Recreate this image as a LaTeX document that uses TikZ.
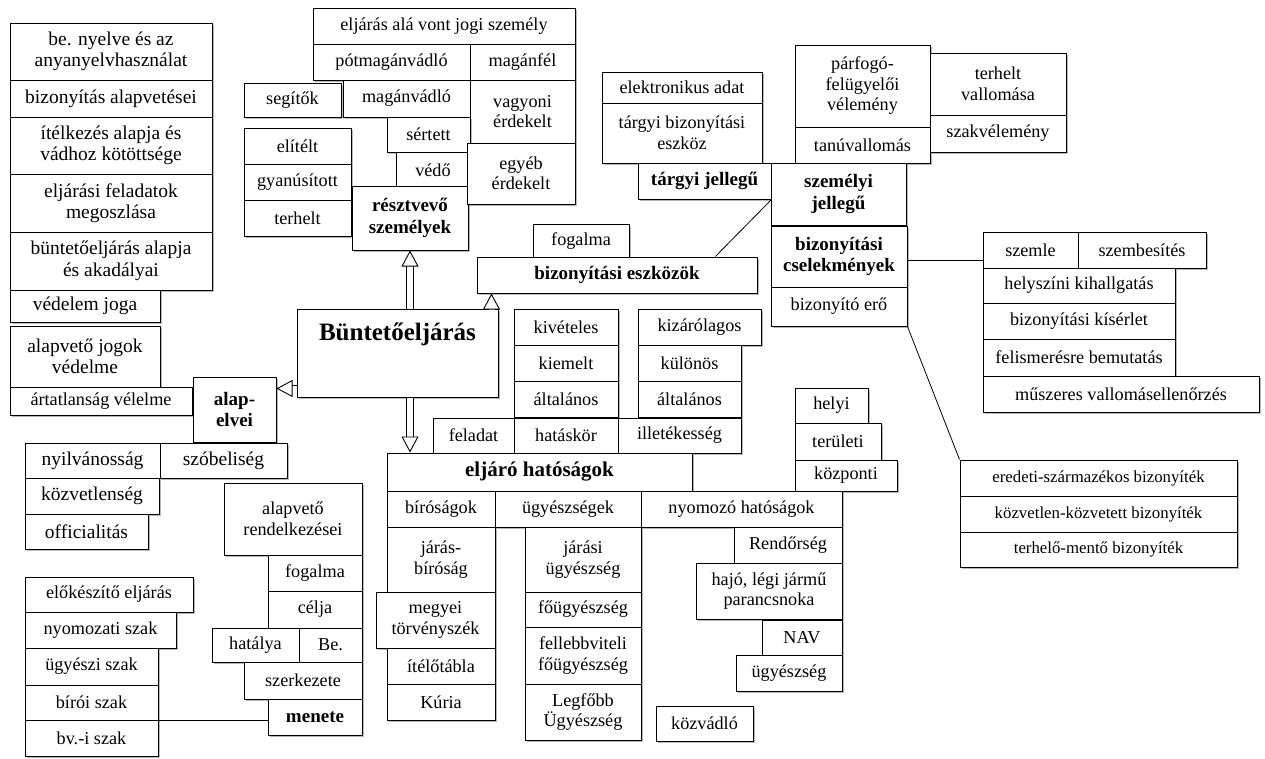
\documentclass[tikz,border=0pt]{standalone}
\usepackage{fontspec}
\setmainfont{Liberation Serif}
\usetikzlibrary{arrows.meta,shadows,calc}

\begin{document}
\begin{tikzpicture}[x=1pt,y=-1pt,
  box/.style={draw,fill=white,line width=1pt,align=center,inner sep=1pt,
    font=\fontsize{18.2}{20.5}\selectfont,
    drop shadow={shadow xshift=2pt,shadow yshift=-2pt,fill=black!55,opacity=.5}},
  wide/.style={box,font=\fontsize{19.5}{21.5}\selectfont},
  slim/.style={box,font=\fontsize{16.8}{20}\selectfont},
  head/.style={box,font=\fontsize{19}{21.5}\selectfont\bfseries},
  sz/.style 2 args={minimum width=#1,minimum height=#2},
  fat/.style={double,double distance=6pt,line width=0.9pt,
    -{Triangle[open,length=16pt,width=17pt]}},
  link/.style={line width=0.8pt}]
\useasboundingbox (0,0) rectangle (1265,758);

% bal oszlop
\node[wide,sz={202}{57}] (nyelv) at (111,51.5) {be. nyelve és az\\anyanyelvhasználat};
\node[wide,sz={202}{37}] (alapvet) at (111,98.5) {bizonyítás alapvetései};
\node[wide,sz={202}{57}] (itelk) at (111,145.5) {ítélkezés alapja és\\vádhoz kötöttsége};
\node[wide,sz={202}{58}] (megoszl) at (111,203) {eljárási feladatok\\megoszlása};
\node[wide,sz={202}{58}] (akadaly) at (111,261) {büntetőeljárás alapja\\és akadályai};
\node[wide,sz={150}{32}] (vedelem) at (85,306) {védelem joga};
\node[wide,sz={150}{61}] (jogok) at (85,356.5) {alapvető jogok\\védelme};
\node[box,sz={182}{28}] (artatl) at (101,401) {ártatlanság vélelme};
\node[head,sz={83}{65}] (alapelv) at (234.5,409.5) {alap-\\elvei};
\node[wide,sz={135}{35}] (nyilv) at (92.5,460.5) {nyilvánosság};
\node[wide,sz={127}{35}] (szobel) at (223.5,460.5) {szóbeliség};
\node[wide,sz={134}{36}] (kozvetl) at (92,496) {közvetlenség};
\node[wide,sz={123}{35}] (offic) at (86.5,531.5) {officialitás};

% Be. alapveto rendelkezesei
\node[box,sz={138}{72}] (rendelk) at (293,519) {alapvető\\rendelkezései};
\node[box,sz={94}{36}] (fogalmaB) at (315,573) {fogalma};
\node[box,sz={94}{37}] (celja) at (315,609.5) {célja};
\node[box,sz={87}{34}] (hatalya) at (255.5,645) {hatálya};
\node[box,sz={63}{34}] (bepont) at (330.5,645) {Be.};
\node[box,sz={118}{37}] (szerk) at (303,680.5) {szerkezete};
\node[head,sz={94}{36}] (menete) at (315,717) {menete};
\node[box,sz={168}{35}] (elokesz) at (109,594.5) {előkészítő eljárás};
\node[box,sz={151}{36}] (nyomszak) at (100.5,630) {nyomozati szak};
\node[box,sz={133}{37}] (ugyszak) at (91.5,666.5) {ügyészi szak};
\node[box,sz={133}{35}] (biroszak) at (91.5,702.5) {bírói szak};
\node[box,sz={133}{36}] (bvszak) at (91.5,738) {bv.-i szak};

% resztvevo szemelyek
\node[box,sz={262}{36}] (jogisz) at (444,26) {eljárás alá vont jogi személy};
\node[box,sz={157}{36}] (potmag) at (391.5,62) {pótmagánvádló};
\node[box,sz={105}{36}] (maganfel) at (522.5,62) {magánfél};
\node[box,sz={97}{34}] (segitok) at (292.5,100) {segítők};
\node[box,sz={127}{37}] (maganvad) at (406.5,98.5) {magánvádló};
\node[box,sz={105}{63}] (vagyoni) at (522.5,111.5) {vagyoni\\érdekelt};
\node[box,sz={107}{36}] (elitelt) at (297.5,146) {elítélt};
\node[box,sz={107}{36}] (gyanu) at (297.5,182) {gyanúsított};
\node[box,sz={107}{36}] (terhelt) at (297.5,218) {terhelt};
\node[box,sz={83}{35}] (sertett) at (428.5,134.5) {sértett};
\node[box,sz={74}{36}] (vedo) at (433,170) {védő};
\node[head,sz={116}{64}] (resztv) at (410,218) {résztvevő\\személyek};
\node[box,sz={108}{61}] (egyeb) at (521,173.5) {egyéb\\érdekelt};

% bizonyitas
\node[box,sz={96}{34}] (fogalmaT) at (581,241.5) {fogalma};
\node[head,sz={280}{36}] (bizeszk) at (617,275) {bizonyítási eszközök};
\node[box,sz={160}{31}] (elektr) at (682,87.5) {elektronikus adat};
\node[box,sz={160}{60}] (targyi) at (682,133) {tárgyi bizonyítási\\eszköz};
\node[head,sz={133}{36}] (targyj) at (704.5,181) {tárgyi jellegű};
\node[box,sz={135}{82}] (parfog) at (862.5,86) {párfogó-\\felügyelői\\vélemény};
\node[box,sz={136}{62}] (terhv) at (998,84) {terhelt\\vallomása};
\node[box,sz={135}{36}] (tanu) at (862.5,145) {tanúvallomás};
\node[box,sz={136}{37}] (szakv) at (998,133.5) {szakvélemény};
\node[head,sz={135}{62}] (szemj) at (838.5,194) {személyi\\jellegű};
\node[head,sz={136}{61}] (bizcs) at (839,256.5) {bizonyítási\\cselekmények};
\node[box,sz={136}{39}] (bizero) at (839,306.5) {bizonyító erő};
\node[box,sz={95}{36}] (szemle) at (1030.5,250) {szemle};
\node[box,sz={128}{36}] (szembes) at (1142,250) {szembesítés};
\node[box,sz={192}{35}] (helysz) at (1079,285.5) {helyszíni kihallgatás};
\node[box,sz={192}{36}] (kiserl) at (1079,321) {bizonyítási kísérlet};
\node[box,sz={192}{37}] (felism) at (1079,357.5) {felismerésre bemutatás};
\node[box,sz={276}{36}] (muszer) at (1121,394) {műszeres vallomásellenőrzés};
\node[slim,sz={277}{36}] (eredeti) at (1098.5,478) {eredeti-származékos bizonyíték};
\node[slim,sz={277}{36}] (kozvet) at (1098.5,514) {közvetlen-közvetett bizonyíték};
\node[slim,sz={277}{35}] (mento) at (1098.5,549.5) {terhelő-mentő bizonyíték};

% kozpont
\node[box,sz={201}{88},font=\fontsize{25}{28}\selectfont\bfseries,
  text height=20,text depth=46,inner sep=11] (bunt) at (397.5,353) {Büntetőeljárás};

% eljaro hatosagok
\node[box,sz={104}{36}] (kivet) at (566,327) {kivételes};
\node[box,sz={104}{36}] (kiemelt) at (566,363) {kiemelt};
\node[box,sz={104}{36}] (altalA) at (566,399) {általános};
\node[box,sz={123}{36}] (kizar) at (699.5,327) {kizárólagos};
\node[box,sz={103}{36}] (kulonos) at (689.5,363) {különös};
\node[box,sz={103}{36}] (altalB) at (689.5,399) {általános};
\node[box,sz={81}{35}] (feladat) at (473.5,435.5) {feladat};
\node[box,sz={104}{35}] (hataskor) at (566,435.5) {hatáskör};
\node[box,sz={123}{35}] (illetek) at (679.5,435.5) {illetékesség};
\node[box,sz={73}{35}] (helyi) at (831.5,405.5) {helyi};
\node[box,sz={86}{37}] (terul) at (838,441.5) {területi};
\node[box,sz={102}{31}] (kozp) at (846,475.5) {központi};
\node[head,sz={305}{38},font=\fontsize{21}{24}\selectfont\bfseries] (eljaro) at (539.5,472) {eljáró hatóságok};
\node[box,sz={108}{36}] (birosag) at (441,509) {bíróságok};
\node[box,sz={146}{36}] (ugyeszs) at (568,509) {ügyészségek};
\node[box,sz={201}{36}] (nyomozo) at (741.5,509) {nyomozó hatóságok};
\node[box,sz={108}{65}] (jarasb) at (441,559.5) {járás-\\bíróság};
\node[box,sz={119}{56}] (megyei) at (435.5,620) {megyei\\törvényszék};
\node[box,sz={108}{36}] (itelot) at (441,666) {ítélőtábla};
\node[box,sz={108}{36}] (kuria) at (441,702) {Kúria};
\node[box,sz={116}{65}] (jarasu) at (583,559.5) {járási\\ügyészség};
\node[box,sz={116}{35}] (foug) at (583,609.5) {főügyészség};
\node[box,sz={116}{57}] (felleb) at (583,655.5) {fellebbviteli\\főügyészség};
\node[box,sz={116}{56}] (legfobb) at (583,712) {Legfőbb\\Ügyészség};
\node[box,sz={108}{36}] (rendor) at (788,545) {Rendőrség};
\node[box,sz={146}{56}] (hajo) at (769,591) {hajó, légi jármű\\parancsnoka};
\node[box,sz={80}{35}] (nav) at (802,637.5) {NAV};
\node[box,sz={106}{36}] (ugyesz) at (789,673) {ügyészség};
\node[box,sz={97}{35}] (kozvad) at (704.5,723.5) {közvádló};

% nyilak
\coordinate (b1) at ($(bizeszk.south west)+(15,0)$);
\coordinate (a1) at ($(bunt.south west)+(0,-9)$);
\draw[fat] (bunt.north -| resztv.south) -- (resztv.south);
\draw[fat] (bunt.north -| b1) -- (b1);
\draw[fat] (a1) -- (a1 -| alapelv.east);
\draw[fat] (bunt.south -| resztv.south) -- (eljaro.north -| resztv.south);

% vonalak
\draw[link] (targyj.south east) -- ($(bizeszk.north west)!0.85!(bizeszk.north east)$);
\draw[link] ([yshift=-4pt]bizcs.east) -- ([yshift=-4pt]bizcs.east -| szemle.west);
\draw[link] (bizero.south east) -- (eredeti.north west);
\draw[link] (biroszak.south east) -- (biroszak.south east -| menete.west);
\end{tikzpicture}
\end{document}
